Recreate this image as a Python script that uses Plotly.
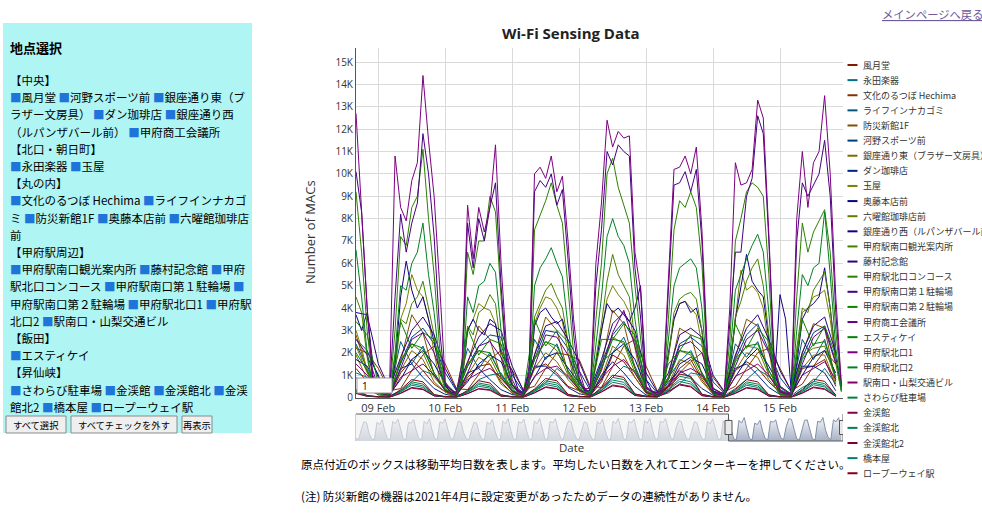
import math
import colorsys
import pandas as pd
import plotly.graph_objects as go

# ---------------- data ----------------
names = [
    "風月堂", "永田楽器", "文化のるつぼ Hechima", "ライフインナカゴミ", "防災新館1F",
    "河野スポーツ前", "銀座通り東（ブラザー文房具）", "ダン珈琲店", "玉屋", "奥藤本店前",
    "六曜館珈琲店前", "銀座通り西（ルパンザバール前）", "甲府駅南口観光案内所", "藤村記念館",
    "甲府駅北口コンコース", "甲府駅南口第１駐輪場", "甲府駅南口第２駐輪場", "甲府商工会議所",
    "エスティケイ", "甲府駅北口1", "甲府駅北口2", "駅南口・山梨交通ビル", "さわらび駐車場",
    "金渓館", "金渓館北", "金渓館北2", "橋本屋", "ロープーウェイ駅",
]

# 2-hourly series (start 2022-02-08 16:00)
v_kitaguchi1 = [12700, 8300, 4000, 1000,
    300, 200, 300, 10800, 8500, 7900, 9700, 10500, 14400, 11500, 9000, 5000,
    700, 300, 250, 1500, 8600, 6200, 8500, 7400, 8500, 11300, 6000, 2100,
    800, 300, 250, 1000, 10000, 10300, 9800, 10800, 9200, 9900, 7000, 3500,
    1200, 400, 400, 6000, 8700, 12400, 11200, 11900, 11600, 11700, 6500, 4800,
    500, 300, 200, 400, 5500, 10200, 10300, 10800, 10000, 11200, 7500, 2000,
    300, 200, 200, 4000, 10500, 9500, 9600, 10200, 13300, 12500, 7300, 1500,
    300, 200, 200, 8000, 11000, 8500, 10500, 11000, 13500, 10000, 4500, 600]
v_minami1 = [10100, 8300, 4000, 800,
    250, 150, 200, 4500, 8200, 6500, 7800, 8700, 11800, 10000, 7200, 3000,
    500, 250, 200, 1200, 7800, 5800, 8000, 7000, 8500, 9600, 5000, 1600,
    600, 250, 200, 800, 9200, 9700, 9400, 10000, 8600, 9300, 6200, 2800,
    900, 300, 300, 5000, 7500, 11000, 10400, 11300, 11000, 10800, 5800, 3600,
    400, 250, 200, 300, 4800, 9500, 9600, 10100, 9200, 10200, 7000, 1600,
    250, 150, 150, 3500, 6500, 6500, 9000, 9800, 12600, 11800, 7000, 1200,
    250, 150, 150, 7000, 9600, 9000, 9500, 10000, 11500, 9000, 3800, 500]
v_concourse = [9200, 6500, 3000, 700,
    250, 150, 150, 3000, 7200, 6800, 8500, 9000, 11100, 8000, 5500, 2200,
    500, 200, 150, 1000, 6500, 5500, 7000, 7000, 9000, 8300, 4500, 1400,
    600, 200, 150, 600, 7500, 8200, 8800, 9600, 8600, 7800, 4800, 2000,
    700, 250, 250, 3500, 6000, 10000, 10700, 9400, 8600, 7800, 5000, 2600,
    300, 200, 150, 250, 3500, 7500, 8800, 8500, 9200, 8500, 6000, 1200,
    200, 150, 150, 2500, 7000, 8000, 9200, 9600, 9400, 9000, 5500, 900,
    200, 150, 150, 4500, 7800, 6500, 7400, 7900, 8400, 6500, 3000, 400]
v_kitaguchi2 = [6600, 4500, 2000, 500,
    200, 100, 150, 2000, 5000, 4800, 6000, 6500, 7800, 5500, 3800, 1500,
    400, 150, 100, 800, 4500, 3800, 5000, 5200, 6000, 5600, 3000, 1000,
    400, 150, 100, 500, 5000, 5800, 6200, 6700, 6000, 5400, 3200, 1300,
    500, 200, 200, 2500, 4500, 7200, 8000, 7200, 6800, 6000, 3500, 1800,
    250, 150, 100, 200, 2500, 5000, 5800, 6000, 6200, 5800, 4000, 900,
    150, 100, 100, 1800, 4800, 5500, 6200, 6800, 7300, 6500, 3800, 700,
    150, 100, 100, 3000, 5500, 5000, 5800, 6000, 8300, 5500, 2200, 300]
v_kanko = [4500, 3800, 1800, 500,
    200, 100, 100, 1200, 3500, 3300, 4200, 4500, 5200, 4000, 2800, 1200,
    300, 100, 100, 600, 3200, 2800, 3800, 4000, 4600, 4200, 2200, 800,
    300, 100, 100, 400, 3600, 4200, 4800, 5100, 4500, 4000, 2400, 1000,
    400, 150, 150, 1800, 3300, 5200, 6400, 5500, 5000, 4500, 2600, 1300,
    200, 100, 100, 150, 1800, 3800, 4400, 4600, 4700, 4400, 3000, 700,
    150, 100, 100, 1300, 3600, 4300, 5200, 5800, 6200, 5000, 2800, 500,
    100, 100, 100, 2200, 4000, 3800, 4800, 5200, 5600, 4000, 1600, 250]
v_tamaya = [3000, 2200, 1200, 400,
    150, 80, 100, 1500, 3500, 4200, 5500, 4800, 4500, 3500, 2000, 800,
    250, 100, 80, 700, 3000, 3500, 4200, 4000, 3900, 3300, 1800, 600,
    250, 100, 80, 500, 3300, 4000, 4500, 4400, 4000, 3400, 2000, 800,
    300, 120, 100, 1500, 3000, 4400, 5000, 4600, 4300, 3800, 2200, 1000,
    200, 80, 70, 200, 1800, 3500, 4200, 4300, 4000, 3700, 2400, 600,
    150, 80, 70, 1200, 3500, 5700, 4800, 5000, 4700, 4000, 2200, 500,
    150, 80, 70, 2000, 3800, 4000, 4500, 4600, 4800, 3500, 1500, 300]
v_ginza_nishi = [3700, 3000, 3800, 1500,
    1000, 300, 200, 1500, 4500, 6100, 4800, 4000, 4500, 3500, 2500, 1200,
    600, 200, 200, 800, 3000, 3500, 3000, 2800, 3500, 3300, 2000, 1500,
    1200, 400, 200, 500, 3200, 3800, 4000, 3600, 3300, 3500, 2500, 1500,
    800, 300, 300, 1500, 3000, 4200, 3800, 4000, 3700, 3400, 4000, 5000,
    800, 300, 200, 300, 2000, 3500, 4200, 4300, 3800, 4000, 3000, 900,
    300, 200, 200, 1200, 3500, 5000, 6400, 5200, 4800, 4500, 2600, 700,
    4600, 3500, 300, 1500, 3500, 4000, 4200, 4500, 5800, 4000, 1800, 400]

# 4-hourly series (start 2022-02-08 16:00)
v_fugetsudo = [1300, 700,
    200, 60, 1100, 1700, 1200, 600,   250, 80, 900, 1400, 1500, 700,
    180, 70, 1300, 1500, 1100, 500,   300, 90, 700, 1900, 1600, 900,
    200, 50, 500, 1300, 1700, 800,    150, 70, 1200, 1600, 1300, 700,
    220, 80, 1300, 1400, 1700, 500]
v_nagata = [1100, 900,
    300, 80, 300, 700, 1200, 1000,    350, 90, 250, 800, 1000, 1100,
    280, 70, 350, 650, 1300, 900,     400, 100, 300, 900, 1400, 1200,
    250, 60, 200, 600, 1100, 1000,    200, 70, 400, 800, 1250, 950,
    300, 80, 450, 700, 1300, 600]
v_hechima = [2200, 2000,
    1300, 300, 400, 1200, 1900, 2300,   1500, 400, 350, 1000, 1700, 2100,
    1200, 350, 500, 1300, 2000, 1900,   1700, 500, 450, 1400, 2300, 2600,
    1400, 300, 300, 1100, 1600, 2000,   900, 250, 500, 1300, 2000, 2200,
    1300, 300, 600, 1400, 2100, 1500]
v_nakagomi = [2400, 1300,
    400, 150, 2500, 1500, 2300, 1100,   350, 140, 2200, 1300, 2000, 1000,
    450, 130, 2600, 1700, 2400, 1200,   500, 160, 1600, 2000, 2700, 1400,
    300, 100, 900, 1600, 2100, 1100,    280, 120, 2400, 1800, 2500, 1200,
    350, 130, 2600, 1700, 2600, 900]
v_bousai = [2800, 1200,
    250, 100, 1600, 3700, 2900, 1000,   300, 110, 1500, 3200, 2600, 900,
    280, 100, 1900, 3600, 3000, 1100,   350, 130, 1400, 3900, 3300, 1300,
    220, 90, 900, 3100, 2800, 1000,     200, 100, 1800, 3500, 3200, 1000,
    260, 110, 2000, 3300, 3100, 700]
v_kono = [2600, 2100,
    900, 250, 1500, 2700, 3100, 2400,   1100, 300, 1400, 2300, 2800, 2700,
    1000, 250, 1700, 3000, 2900, 2200,  1200, 300, 1500, 2800, 3400, 2500,
    800, 200, 900, 2400, 2700, 2300,    700, 200, 1700, 2800, 3300, 2100,
    900, 250, 1800, 2900, 3200, 1600]
v_ginza_higashi = [1900, 800,
    200, 70, 1200, 2100, 1700, 700,     240, 80, 1000, 1800, 1500, 600,
    220, 70, 1300, 2000, 1600, 800,     280, 100, 900, 2300, 1900, 900,
    180, 60, 600, 1700, 1500, 700,      160, 70, 1200, 2000, 1800, 800,
    200, 80, 1300, 1900, 1900, 600]
v_dan = [900, 400,
    120, 50, 1300, 1500, 900, 400,      140, 60, 1100, 1300, 800, 350,
    130, 50, 1400, 1400, 1000, 450,     170, 70, 1000, 1600, 1100, 500,
    110, 40, 700, 1200, 900, 400,       100, 50, 1300, 1500, 1000, 450,
    130, 60, 1400, 1400, 1100, 300]
v_okuto = [1700, 1400,
    500, 150, 800, 1700, 2100, 1500,    600, 160, 700, 1500, 1900, 1600,
    550, 150, 900, 1800, 2000, 1300,    650, 180, 800, 2000, 2400, 1700,
    450, 120, 500, 1500, 1800, 1500,    400, 130, 900, 1700, 2200, 1400,
    500, 150, 1000, 1800, 2100, 1100]
v_rokuyokan = [2300, 1100,
    300, 100, 1700, 2400, 2000, 900,    350, 110, 1500, 2100, 1800, 800,
    330, 100, 1800, 2500, 2100, 1000,   400, 130, 1300, 2700, 2400, 1100,
    270, 90, 900, 2100, 1900, 900,      250, 100, 1700, 2300, 2200, 1000,
    300, 110, 1900, 2200, 2300, 800]
v_fujimura = [3800, 3700,
    1500, 400, 1800, 3000, 3600, 2800,  1300, 350, 1600, 2700, 3300, 3000,
    1400, 300, 1900, 3200, 3400, 2600,  1600, 400, 1700, 3300, 3800, 3000,
    1100, 250, 1100, 2800, 3100, 2700,  1000, 280, 1900, 3100, 3700, 2600,
    1200, 300, 2000, 3200, 3600, 2000]
v_minami2 = [3400, 2800,
    600, 150, 3400, 2200, 2900, 2600,   650, 170, 3100, 1900, 2600, 2400,
    600, 160, 3500, 2300, 3000, 2500,   700, 190, 2600, 2600, 3300, 2800,
    450, 120, 1500, 2100, 2800, 2600,   420, 140, 3300, 2200, 3100, 2500,
    500, 160, 3500, 2300, 3200, 1900]
v_shoko = [2600, 1900,
    500, 130, 1300, 2600, 2900, 2000,   550, 140, 1100, 2300, 2500, 1800,
    520, 130, 1400, 2800, 2700, 1900,   600, 160, 1200, 2900, 3900, 2300,
    420, 110, 800, 2300, 2500, 2000,    400, 120, 1400, 2600, 3000, 2000,
    450, 130, 1500, 2700, 3100, 1500]
v_estikei = [2000, 1200,
    280, 90, 1600, 2400, 2200, 1100,    320, 100, 1400, 2100, 2000, 1000,
    300, 90, 1700, 2500, 2300, 1200,    360, 120, 1300, 2600, 2500, 1300,
    240, 80, 800, 2100, 2000, 1100,     220, 90, 1600, 2300, 2400, 1200,
    270, 100, 1700, 2400, 2500, 900]
v_yamanashi_kotsu = [1500, 1000,
    260, 70, 900, 1200, 1500, 1000,     300, 80, 800, 1100, 1300, 900,
    280, 70, 950, 1300, 1400, 950,      330, 90, 850, 1400, 1700, 1100,
    230, 60, 550, 1100, 1300, 1000,     210, 70, 950, 1200, 1500, 1000,
    250, 80, 1000, 1300, 1600, 800]
v_sawarabi = [300, 80,
    30, 20, 300, 700, 600, 120,   40, 20, 280, 650, 550, 110,
    30, 20, 320, 750, 650, 130,   50, 30, 400, 900, 800, 150,
    60, 30, 450, 950, 850, 140,   30, 20, 300, 700, 600, 110,
    30, 20, 320, 720, 620, 100]
v_kinkeikan = [200, 60,
    20, 10, 200, 450, 380, 80,    25, 10, 180, 400, 350, 70,
    20, 10, 220, 480, 400, 90,    30, 15, 260, 560, 480, 100,
    35, 15, 280, 600, 500, 90,    20, 10, 200, 450, 380, 70,
    20, 10, 210, 470, 390, 60]
v_kinkeikan_kita = [250, 70,
    25, 15, 250, 550, 450, 90,    30, 15, 230, 500, 420, 80,
    25, 15, 270, 580, 480, 100,   35, 20, 320, 680, 580, 120,
    40, 20, 340, 720, 600, 110,   25, 15, 250, 550, 450, 80,
    25, 15, 260, 570, 470, 70]
v_kinkeikan_kita2 = [180, 50,
    20, 10, 180, 420, 350, 70,    20, 10, 170, 380, 320, 60,
    20, 10, 200, 450, 380, 80,    30, 15, 240, 520, 450, 90,
    30, 15, 260, 560, 470, 80,    20, 10, 180, 420, 350, 60,
    20, 10, 190, 440, 360, 50]
v_hashimotoya = [280, 70,
    30, 15, 260, 620, 520, 100,   30, 15, 240, 580, 480, 90,
    30, 15, 280, 660, 560, 110,   40, 20, 340, 780, 680, 130,
    45, 20, 380, 820, 700, 120,   30, 15, 260, 620, 520, 90,
    30, 15, 270, 640, 540, 80]
v_ropeway = [350, 90,
    35, 20, 350, 800, 700, 130,   40, 20, 320, 750, 650, 120,
    35, 20, 380, 850, 750, 140,   50, 25, 450, 1000, 900, 160,
    55, 25, 480, 1050, 950, 150,  35, 20, 350, 800, 700, 120,
    35, 20, 360, 820, 720, 110]

values = [
    v_fugetsudo, v_nagata, v_hechima, v_nakagomi, v_bousai,
    v_kono, v_ginza_higashi, v_dan, v_tamaya, v_okuto,
    v_rokuyokan, v_ginza_nishi, v_kanko, v_fujimura,
    v_concourse, v_minami1, v_minami2, v_shoko,
    v_estikei, v_kitaguchi1, v_kitaguchi2, v_yamanashi_kotsu, v_sawarabi,
    v_kinkeikan, v_kinkeikan_kita, v_kinkeikan_kita2, v_hashimotoya, v_ropeway,
]

# overview (range selector) series: 4-hourly from 2022-01-16 00:00
overview = [
    120, 60, 480, 820, 780, 320,   90, 50, 800, 700, 900, 420,
    100, 50, 830, 740, 930, 450,   95, 55, 790, 760, 910, 430,
    100, 50, 840, 720, 950, 460,   110, 55, 820, 750, 940, 500,
    140, 60, 520, 850, 800, 360,   110, 55, 470, 800, 760, 310,
    90, 50, 810, 710, 920, 430,    95, 50, 840, 730, 950, 450,
    100, 55, 820, 760, 930, 440,   100, 50, 850, 740, 960, 470,
    110, 55, 830, 770, 950, 500,   140, 60, 540, 860, 810, 370,
    110, 55, 490, 810, 770, 320,   90, 50, 820, 720, 930, 440,
    95, 50, 850, 740, 960, 460,    100, 55, 830, 770, 940, 450,
    100, 50, 860, 750, 970, 480,   110, 55, 840, 780, 960, 510,
    140, 60, 550, 870, 820, 380,   110, 55, 500, 820, 780, 330,
    90, 50, 830, 730, 940, 450,    95, 50, 860, 750, 970, 470,
    100, 55, 880, 760, 1000, 520,  110, 50, 760, 700, 880, 420,
    110, 50, 840, 800, 900, 450,   130, 60, 620, 950, 920, 500,
    100, 50, 450, 880, 900, 480,   90, 50, 840, 800, 1000, 460,
    150, 60, 900, 820, 990, 380,
]

day_ticks = ["2022-02-09", "2022-02-10", "2022-02-11", "2022-02-12",
             "2022-02-13", "2022-02-14", "2022-02-15"]
day_labels = ["09 Feb", "10 Feb", "11 Feb", "12 Feb", "13 Feb", "14 Feb", "15 Feb"]
y_ticks = list(range(0, 16000, 1000))
y_labels = ["0"] + [f"{k}K" for k in range(1, 16)]

panel_lines = [
    "【中央】",
    "☑風月堂 ☑河野スポーツ前 ☑銀座通り東（ブ",
    "ラザー文房具） ☑ダン珈琲店 ☑銀座通り西",
    "（ルパンザバール前） ☑甲府商工会議所",
    "【北口・朝日町】",
    "☑永田楽器 ☑玉屋",
    "【丸の内】",
    "☑文化のるつぼ Hechima ☑ライフインナカゴ",
    "ミ ☑防災新館1F ☑奥藤本店前 ☑六曜館珈琲店",
    "前",
    "【甲府駅周辺】",
    "☑甲府駅南口観光案内所 ☑藤村記念館 ☑甲府",
    "駅北口コンコース ☑甲府駅南口第１駐輪場 ☑",
    "甲府駅南口第２駐輪場 ☑甲府駅北口1 ☑甲府駅",
    "北口2 ☑駅南口・山梨交通ビル",
    "【飯田】",
    "☑エスティケイ",
    "【昇仙峡】",
    "☑さわらび駐車場 ☑金渓館 ☑金渓館北 ☑金渓",
    "館北2 ☑橋本屋 ☑ロープーウェイ駅",
]
buttons = ["すべて選択", "すべてチェックを外す", "再表示"]
note1 = "原点付近のボックスは移動平均日数を表します。平均したい日数を入れてエンターキーを押してください。"
note2 = "(注) 防災新館の機器は2021年4月に設定変更があったためデータの連続性がありません。"

# ---------------- layout helpers ----------------
W, H = 982, 525
ML, MR, MT, MB = 356, 139, 48, 84
PW, PH = W - ML - MR, H - MT - MB
YMAX = 15630
WIN0, WIN1 = "2022-02-08 16:00", "2022-02-15 22:35"
ALL0 = "2022-01-16 00:00"
YMAX2 = 1150

JP = "Noto Sans CJK JP"
LAT = "Open Sans"


def px(x):
    return (x - ML) / PW


def py(y):
    return (H - MB - y) / PH


def dy_color(i, n):
    half = math.ceil(n / 2)
    idx = half + (i + 1) / 2 if i % 2 else math.ceil((i + 1) / 2)
    r, g, b = colorsys.hsv_to_rgb(idx / (1 + n), 1.0, 0.5)
    return f"rgb({round(r*255)},{round(g*255)},{round(b*255)})"


n = len(names)
colors = [dy_color(i, n) for i in range(n)]

t2 = pd.date_range("2022-02-08 16:00", periods=88, freq="2h")
t4 = pd.date_range("2022-02-08 16:00", periods=44, freq="4h")
t_over = pd.date_range(ALL0, periods=len(overview), freq="4h")

fig = go.Figure()
for i, (nm, v) in enumerate(zip(names, values)):
    x = t2 if len(v) == len(t2) else t4
    fig.add_trace(go.Scatter(x=x, y=v, mode="lines", name=nm,
                             line=dict(color=colors[i], width=1),
                             xaxis="x", yaxis="y", hoverinfo="skip", showlegend=False))

fig.add_trace(go.Scatter(
    x=t_over, y=overview, mode="lines", xaxis="x2", yaxis="y2",
    line=dict(color="#808FAB", width=1), fill="tozeroy",
    fillgradient=dict(type="vertical", colorscale=[[0, "#A7B1C4"], [1, "#ffffff"]],
                      start=0, stop=YMAX2),
    hoverinfo="skip", showlegend=False))

shapes = []
ann = []

# left panel
shapes.append(dict(type="rect", xref="paper", yref="paper", x0=px(3), x1=px(252),
                   y0=py(433), y1=py(23), fillcolor="#aef5f3", line=dict(width=0)))
ann.append(dict(text="<b>地点選択</b>", x=px(8), y=py(47), xref="paper", yref="paper",
                xanchor="left", yanchor="middle", showarrow=False,
                font=dict(family=JP, size=13, color="#000")))
CHK = "<span style='color:#1f74d9'>■</span>"
for i, line in enumerate(panel_lines):
    ann.append(dict(text=line.replace("☑", CHK), x=px(8), y=py(80 + 17.2 * i),
                    xref="paper", yref="paper", xanchor="left", yanchor="middle",
                    showarrow=False, font=dict(family=JP, size=11.5, color="#000")))
btn_x = [(6, 66), (71, 177), (182, 212)]
for (bx0, bx1), label in zip(btn_x, buttons):
    shapes.append(dict(type="rect", xref="paper", yref="paper", x0=px(bx0), x1=px(bx1),
                       y0=py(433), y1=py(416), fillcolor="#efefef",
                       line=dict(color="#8a8a8a", width=1)))
    ann.append(dict(text=label, x=px((bx0 + bx1) / 2), y=py(424.5), xref="paper", yref="paper",
                    xanchor="center", yanchor="middle", showarrow=False,
                    font=dict(family=JP, size=9.3, color="#000")))

# title, link, axis titles, notes
ann.append(dict(text="<b>Wi-Fi Sensing Data</b>", x=px(571), y=py(33), xref="paper", yref="paper",
                xanchor="center", yanchor="middle", showarrow=False,
                font=dict(family=LAT, size=15, color="#222")))
ann.append(dict(text="<u>メインページへ戻る</u>", x=px(880), y=py(14), xref="paper", yref="paper",
                xanchor="left", yanchor="middle", showarrow=False,
                font=dict(family=JP, size=11.3, color="#6e5a9c")))
ann.append(dict(text="Number of MACs", x=px(310), y=py(232), xref="paper", yref="paper",
                xanchor="center", yanchor="middle", textangle=-90, showarrow=False,
                font=dict(family=LAT, size=13, color="#333")))
ann.append(dict(text="Date", x=px(571), y=py(447.5), xref="paper", yref="paper",
                xanchor="center", yanchor="middle", showarrow=False,
                font=dict(family=LAT, size=11.5, color="#333")))
ann.append(dict(text=note1, x=px(299), y=py(464.5), xref="paper", yref="paper",
                xanchor="left", yanchor="middle", showarrow=False,
                font=dict(family=JP, size=11.5, color="#000")))
ann.append(dict(text=note2, x=px(299), y=py(496), xref="paper", yref="paper",
                xanchor="left", yanchor="middle", showarrow=False,
                font=dict(family=JP, size=11.5, color="#000")))

# legend (external labels div look)
for i, nm in enumerate(names):
    yy = 65 + 15.12 * i
    shapes.append(dict(type="line", xref="paper", yref="paper", x0=px(847.5), x1=px(857.5),
                       y0=py(yy), y1=py(yy), line=dict(color=colors[i], width=2)))
    ann.append(dict(text=nm, x=px(861), y=py(yy), xref="paper", yref="paper",
                    xanchor="left", yanchor="middle", showarrow=False,
                    font=dict(family=JP, size=9, color="#333")))

# roller box
shapes.append(dict(type="rect", xref="paper", yref="paper", x0=px(357), x1=px(392),
                   y0=py(393), y1=py(378), fillcolor="#fff", line=dict(color="#999", width=1)))
ann.append(dict(text="1", x=px(360), y=py(385.5), xref="paper", yref="paper",
                xanchor="left", yanchor="middle", showarrow=False,
                font=dict(family=LAT, size=10, color="#000")))

# range selector decorations
shapes.append(dict(type="rect", xref="x2", yref="y2 domain", x0=ALL0, x1=WIN0, y0=0, y1=1,
                   fillcolor="rgba(240,240,240,0.6)", line=dict(width=0)))
shapes.append(dict(type="line", xref="paper", yref="y2 domain", x0=px(355.5), x1=px(355.5),
                   y0=0, y1=1, line=dict(color="#cfcfcf", width=1)))
for (a0, a1, b0, b1) in [(ALL0, WIN0, 1, 1), (WIN0, WIN0, 0, 1), (WIN0, WIN1, 0, 0), (WIN1, WIN1, 0, 1)]:
    shapes.append(dict(type="line", xref="x2", yref="y2 domain", x0=a0, x1=a1, y0=b0, y1=b1,
                       line=dict(color="#5a5a5a", width=1)))
for xa in (WIN0, WIN1):
    shapes.append(dict(type="rect", xref="x2", yref="y2 domain", xsizemode="pixel", xanchor=xa,
                       x0=-3.5, x1=3.5, ysizemode="pixel", yanchor=0.5, y0=-7, y1=7,
                       fillcolor="#e9e9e9", line=dict(color="#555", width=1)))

fig.update_layout(
    width=W, height=H, autosize=False,
    margin=dict(l=ML, r=MR, t=MT, b=MB, pad=0),
    paper_bgcolor="#ffffff", plot_bgcolor="#ffffff",
    hovermode=False, showlegend=False,
    xaxis=dict(type="date", range=[WIN0, WIN1], domain=[0, 1], anchor="y",
               tickvals=day_ticks, ticktext=day_labels, showgrid=True, gridcolor="#dadada",
               gridwidth=1, showline=True, linecolor="#555", linewidth=1, ticks="",
               zeroline=False, tickfont=dict(family=LAT, size=11, color="#333")),
    yaxis=dict(range=[0, YMAX], domain=[py(397.5), 1], anchor="x",
               tickvals=y_ticks, ticktext=y_labels, showgrid=True, gridcolor="#dadada",
               gridwidth=1, showline=True, linecolor="#555", linewidth=1, ticks="",
               zeroline=False, tickfont=dict(family=LAT, size=10, color="#333")),
    xaxis2=dict(type="date", range=[ALL0, WIN1], domain=[0, 1], anchor="y2",
                showticklabels=False, showgrid=False, showline=False, zeroline=False, ticks=""),
    yaxis2=dict(range=[0, YMAX2], domain=[py(441), py(414)], anchor="x2",
                visible=False),
    shapes=shapes, annotations=ann,
)

fig.write_html("out.html", config={"displayModeBar": False, "staticPlot": True},
               post_script="document.body.style.margin='0';document.body.style.overflow='hidden';")
